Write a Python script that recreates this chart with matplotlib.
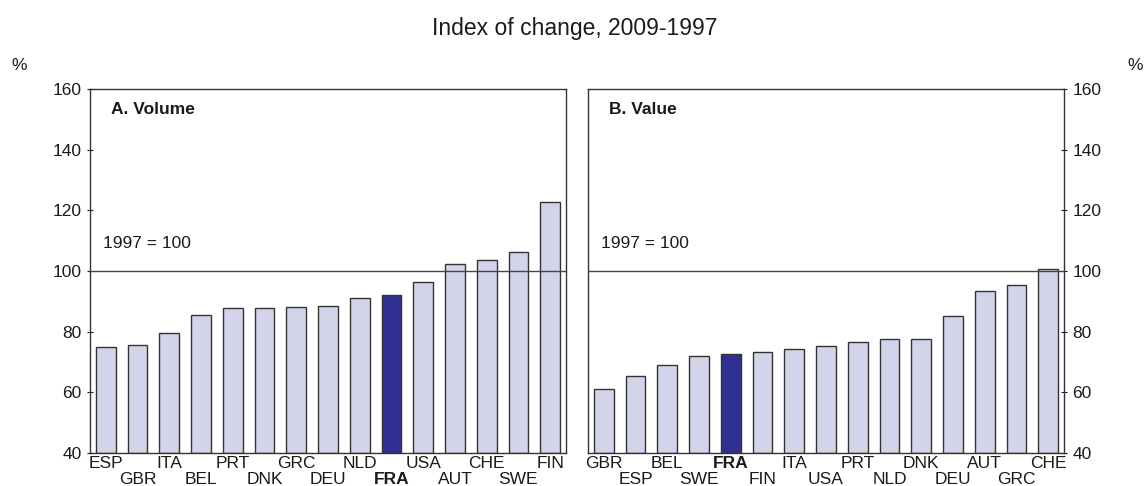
import matplotlib
matplotlib.use("Agg")
import matplotlib.pyplot as plt

plt.rcParams['font.family'] = ['Liberation Sans', 'DejaVu Sans']

vol_countries = ["ESP", "GBR", "ITA", "BEL", "PRT", "DNK", "GRC", "DEU",
                 "NLD", "FRA", "USA", "AUT", "CHE", "SWE", "FIN"]
vol_values = [75.0, 75.6, 79.5, 85.4, 87.8, 87.8, 88.0, 88.4,
              91.2, 92.2, 96.3, 102.4, 103.5, 106.4, 122.8]

val_countries = ["GBR", "ESP", "BEL", "SWE", "FRA", "FIN", "ITA", "USA",
                 "PRT", "NLD", "DNK", "DEU", "AUT", "GRC", "CHE"]
val_values = [61.0, 65.4, 69.1, 71.9, 72.6, 73.4, 74.4, 75.2,
              76.5, 77.5, 77.5, 85.2, 93.3, 95.4, 100.6]

yticks = [40, 60, 80, 100, 120, 140, 160]

light = "#D3D3EA"
dark = "#2E3192"
edge = "#333333"
txt = "#1a1a1a"
fs = 12.5

W, H = 1147, 486
fig = plt.figure(figsize=(W / 100, H / 100), dpi=100)

ax1 = fig.add_axes([90 / W, 33 / H, 476 / W, 364 / H])
ax2 = fig.add_axes([588 / W, 33 / H, 476 / W, 364 / H])


def draw_panel(ax, countries, values, title, side):
    colors = [dark if c == "FRA" else light for c in countries]
    x = range(len(countries))
    ax.bar(x, [v - 40 for v in values], bottom=40, width=0.62,
           color=colors, edgecolor=edge, linewidth=1.0, zorder=2)
    ax.axhline(100, color="#444444", linewidth=1.0, zorder=3)
    ax.set_xlim(-0.5, len(countries) - 0.5)
    ax.set_ylim(40, 160)
    ax.set_yticks(yticks)
    ax.set_xticks([])
    for s in ax.spines.values():
        s.set_color("#333333")
        s.set_linewidth(1.0)
    if side == "right":
        ax.yaxis.tick_right()
    ax.tick_params(axis="y", direction="inout", length=4, width=0.8,
                   labelsize=fs, colors=txt, pad=4)
    for i, c in enumerate(countries):
        off = -2.5 if i % 2 == 0 else -14
        ax.annotate(c, (i, 0), xycoords=("data", "axes fraction"),
                    xytext=(0, off), textcoords="offset points",
                    ha="center", va="top", fontsize=fs, color=txt,
                    fontweight="bold" if c == "FRA" else "normal")
    ax.text(0.045, 0.965, title, transform=ax.transAxes, fontsize=fs,
            fontweight="bold", va="top", ha="left", color=txt)
    ax.text(0.028, 106.5, "1997 = 100", fontsize=fs, va="bottom",
            ha="left", color=txt, transform=ax.get_yaxis_transform())


draw_panel(ax1, vol_countries, vol_values, "A. Volume", "left")
draw_panel(ax2, val_countries, val_values, "B. Value", "right")

fig.text(575 / W, 1 - 28 / H, "Index of change, 2009-1997", ha="center",
         va="center", fontsize=16.5, color=txt)
fig.text(19 / W, 1 - 65 / H, "%", ha="center", va="center", fontsize=fs,
         color=txt)
fig.text(1135 / W, 1 - 65 / H, "%", ha="center", va="center", fontsize=fs,
         color=txt)

fig.savefig("out.png", dpi=100)
